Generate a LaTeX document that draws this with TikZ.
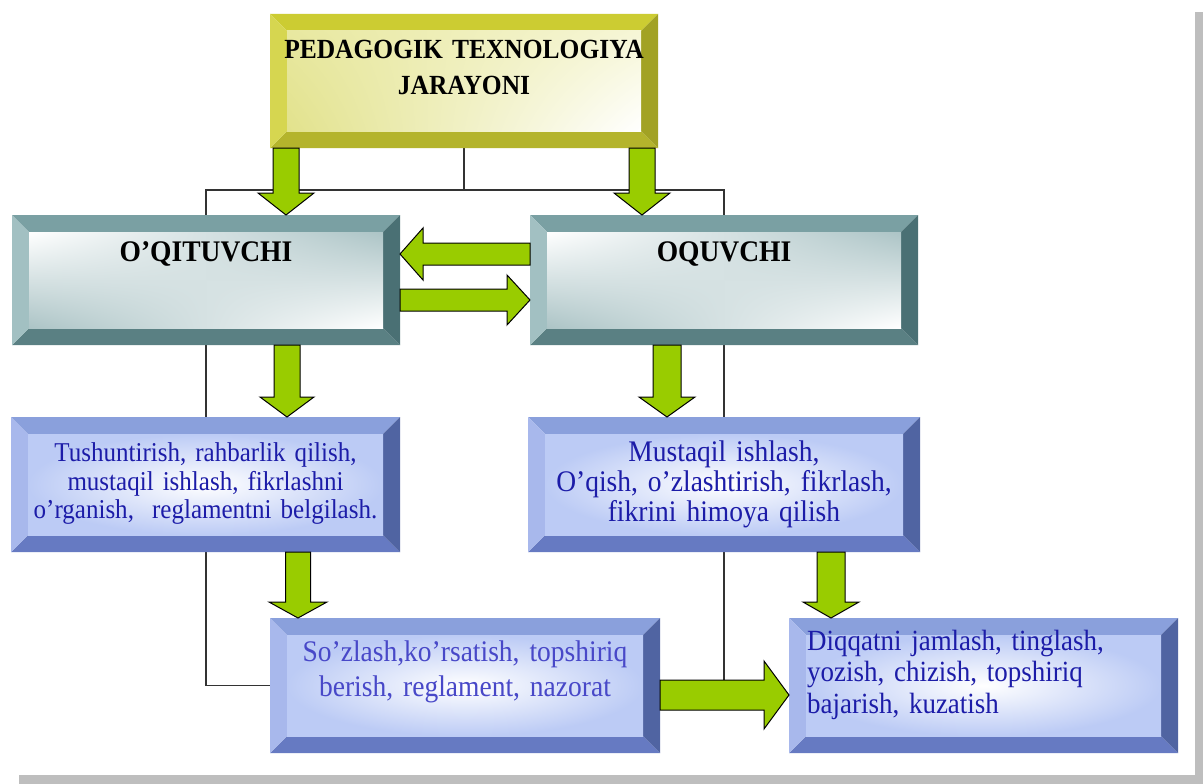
\documentclass[tikz,border=0pt]{standalone}
\usepackage{fontspec}
\setmainfont[FakeStretch=0.92]{Liberation Serif}
\usetikzlibrary{calc,shadings}
\definecolor{shadowgray}{RGB}{190,190,190}
\definecolor{agreen}{RGB}{153,204,0}
\definecolor{yT}{RGB}{204,204,50}
\definecolor{yL}{RGB}{214,214,80}
\definecolor{yR}{RGB}{162,162,36}
\definecolor{yB}{RGB}{180,180,44}
\definecolor{yI1}{RGB}{232,232,160}
\definecolor{yI2}{RGB}{246,246,214}
\definecolor{yI3}{RGB}{226,226,140}
\definecolor{tT}{RGB}{122,160,163}
\definecolor{tL}{RGB}{162,192,194}
\definecolor{tR}{RGB}{74,112,116}
\definecolor{tB}{RGB}{90,128,131}
\definecolor{tI}{RGB}{172,196,198}
\definecolor{bT}{RGB}{138,160,220}
\definecolor{bL}{RGB}{168,184,236}
\definecolor{bR}{RGB}{80,100,162}
\definecolor{bB}{RGB}{102,122,194}
\definecolor{bI}{RGB}{188,203,245}
\definecolor{tb}{RGB}{28,28,168}
\definecolor{sb}{RGB}{72,72,200}
\newcommand\bevw{17pt}
\newcommand\bevel[3]{%
  \fill[#2T] (#1.north west) -- (#1.north east) -- ([xshift=-\bevw,yshift=-\bevw]#1.north east) -- ([xshift=\bevw,yshift=-\bevw]#1.north west) -- cycle;
  \fill[#2B] (#1.south west) -- (#1.south east) -- ([xshift=-\bevw,yshift=\bevw]#1.south east) -- ([xshift=\bevw,yshift=\bevw]#1.south west) -- cycle;
  \fill[#2L] (#1.north west) -- (#1.south west) -- ([xshift=\bevw,yshift=\bevw]#1.south west) -- ([xshift=\bevw,yshift=-\bevw]#1.north west) -- cycle;
  \fill[#2R] (#1.north east) -- (#1.south east) -- ([xshift=-\bevw,yshift=\bevw]#1.south east) -- ([xshift=-\bevw,yshift=-\bevw]#1.north east) -- cycle;
  \shade[#3] ([xshift=\bevw,yshift=-\bevw]#1.north west) rectangle ([xshift=-\bevw,yshift=\bevw]#1.south east);
}
\newcommand\garrowD[5]{\draw[garrow] let \p1=#1, \p2=#2 in
  (\x1-#3pt,\y1) -- (\x1-#3pt,\y2+#5pt) -- (\x1-#4pt,\y2+#5pt) -- (\x1,\y2) -- (\x1+#4pt,\y2+#5pt) -- (\x1+#3pt,\y2+#5pt) -- (\x1+#3pt,\y1) -- cycle;}
\newcommand\garrowR[5]{\draw[garrow] let \p1=#1, \p2=#2 in
  (\x1,\y1+#3pt) -- (\x2-#5pt,\y1+#3pt) -- (\x2-#5pt,\y1+#4pt) -- (\x2,\y1) -- (\x2-#5pt,\y1-#4pt) -- (\x2-#5pt,\y1-#3pt) -- (\x1,\y1-#3pt) -- cycle;}
\newcommand\garrowL[5]{\draw[garrow] let \p1=#1, \p2=#2 in
  (\x1,\y1+#3pt) -- (\x2+#5pt,\y1+#3pt) -- (\x2+#5pt,\y1+#4pt) -- (\x2,\y1) -- (\x2+#5pt,\y1-#4pt) -- (\x2+#5pt,\y1-#3pt) -- (\x1,\y1-#3pt) -- cycle;}
\tikzset{
  boxnode/.style={rectangle, inner sep=0pt, outer sep=0pt},
  conn/.style={draw=black!80, line width=1.3pt},
  garrow/.style={fill=agreen, draw=black, line width=1pt, line join=miter},
  yshade/.style={upper left=yI1, upper right=yI2, lower left=yI3, lower right=white},
  tshade/.style={upper left=white, upper right=tI, lower left=tI, lower right=white},
  bshade/.style={inner color=white, outer color=bI},
  ttl/.style={font=\bfseries\fontsize{27.7}{36.5}\selectfont, anchor=base, inner sep=0pt, align=center, text width=380pt},
  hdr/.style={font=\bfseries\fontsize{29.9}{30}\selectfont, anchor=base, inner sep=0pt},
  btxt/.style={anchor=base, inner sep=0pt, align=center, text=tb},
}
\begin{document}
\begin{tikzpicture}[x=1pt,y=-1pt]
\useasboundingbox (0,0) rectangle (1203,784);
\fill[shadowgray] (1195,12) rectangle (1203,784);
\fill[shadowgray] (19,775) rectangle (1203,784);
\fill[white] (0,0) rectangle (1195,775);

% box nodes
\node[boxnode, minimum width=388pt, minimum height=134pt] (top) at (464,81) {};
\node[boxnode, minimum width=388pt, minimum height=130pt] (oqt) at (206,280) {};
\node[boxnode, minimum width=388pt, minimum height=130pt] (oq) at (724,280) {};
\node[boxnode, minimum width=389pt, minimum height=135pt] (tush) at (205.5,484.5) {};
\node[boxnode, minimum width=392pt, minimum height=135pt] (must) at (724,484.5) {};
\node[boxnode, minimum width=390pt, minimum height=135pt] (soz) at (465,685.5) {};
\node[boxnode, minimum width=389pt, minimum height=135pt] (diq) at (983.5,685.5) {};

% thin connectors
\coordinate (bus) at (464,190);
\coordinate (yA9) at (0,695);
\draw[conn] (top.south) -- (bus);
\draw[conn] (oqt.north) |- (bus) -| (oq.north);
\draw[conn] (oqt.south) |- (soz.west);
\draw[conn] (oq.south) |- (diq.west |- yA9);

% bevelled boxes
\bevel{top}{y}{yshade}
\bevel{oqt}{t}{tshade}
\bevel{oq}{t}{tshade}
\bevel{tush}{b}{bshade}
\bevel{must}{b}{bshade}
\bevel{soz}{b}{bshade}
\bevel{diq}{b}{bshade}

% texts
\node[ttl] (toptxt) at (464,58.3) {PEDAGOGIK TEXNOLOGIYA\\JARAYONI};
\node[hdr] (oqttxt) at (206,261.5) {O’QITUVCHI};
\node[hdr] (oqtxt) at (724,261.5) {OQUVCHI};
\node[btxt, text width=385pt, font=\fontsize{27.2}{28.3}\selectfont] (tushtxt) at (205.5,461.7)
  {Tushuntirish, rahbarlik qilish,\\mustaqil ishlash, fikrlashni\\o’rganish,\ \ reglamentni belgilash.};
\node[btxt, text width=385pt, font=\fontsize{29.9}{30}\selectfont] (musttxt) at (724,461.7)
  {Mustaqil ishlash,\\O’qish, o’zlashtirish, fikrlash,\\fikrini himoya qilish};
\node[btxt, text width=385pt, text=sb, font=\fontsize{29.9}{35}\selectfont] (soztxt) at (465,661.7)
  {So’zlash,ko’rsatish, topshiriq\\berish, reglament, nazorat};
\node[btxt, anchor=base west, align=left, text width=360pt, font=\fontsize{29.3}{31.5}\selectfont] (diqtxt) at (807,650)
  {Diqqatni jamlash, tinglash,\\yozish, chizish, topshiriq\\bajarish, kuzatish};

% green block arrows
\coordinate (xA1) at (286,0);
\coordinate (xA2) at (642,0);
\coordinate (yA3) at (0,254);
\coordinate (yA4) at (0,300);
\coordinate (xA5) at (287,0);
\coordinate (xA6) at (667,0);
\coordinate (xA7) at (298,0);
\coordinate (xA8) at (831,0);
\garrowD{(xA1 |- top.south)}{(xA1 |- oqt.north)}{13}{28}{22}
\garrowD{(xA2 |- top.south)}{(xA2 |- oq.north)}{13}{28}{22}
\garrowL{(oq.west |- yA3)}{(oqt.east |- yA3)}{11}{26}{23}
\garrowR{(oqt.east |- yA4)}{(oq.west |- yA4)}{11}{25}{23}
\garrowD{(xA5 |- oqt.south)}{(xA5 |- tush.north)}{13}{27}{20}
\garrowD{(xA6 |- oq.south)}{(xA6 |- must.north)}{14}{28}{20}
\garrowD{(xA7 |- tush.south)}{(xA7 |- soz.north)}{12.5}{29}{16}
\garrowD{(xA8 |- must.south)}{(xA8 |- diq.north)}{14}{28}{16}
\garrowR{(soz.east |- yA9)}{(diq.west |- yA9)}{15}{34}{25}
\end{tikzpicture}
\end{document}
